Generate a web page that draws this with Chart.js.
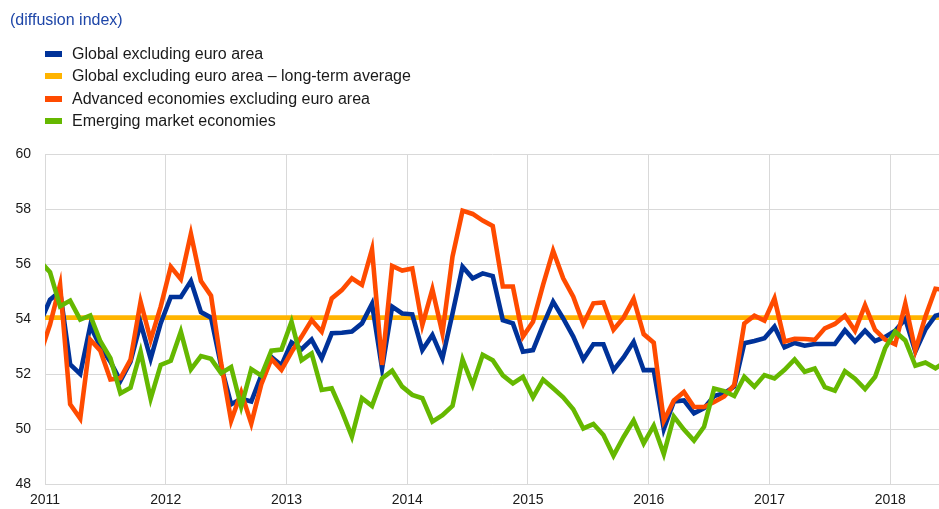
<!DOCTYPE html>
<html><head><meta charset="utf-8">
<script src="https://cdn.jsdelivr.net/npm/chart.js@4/dist/chart.umd.min.js"></script>
<style>
html,body{margin:0;padding:0;background:#fff;}
#wrap{position:relative;width:939px;height:509px;overflow:hidden;font-family:"Liberation Sans",Arial,sans-serif;}
#title{position:absolute;left:10px;top:10px;font-size:16px;color:#1e46a8;line-height:20px;white-space:nowrap;}
#legend{position:absolute;left:45px;top:43px;}
.item{position:absolute;left:0;height:22px;line-height:22px;font-size:16px;color:#1a1a1a;white-space:nowrap;}
.sw{position:absolute;left:0;top:8px;width:17px;height:6px;}
.lbl{position:absolute;left:27px;top:0;}
canvas{position:absolute;left:0;top:0;}
</style></head><body>
<div id="wrap"><canvas id="c" width="939" height="509"></canvas><div id="title">(diffusion index)</div><div id="legend"></div></div>
<script>
// Monthly categories: Dec 2010 .. Jun 2018 (edge months are partly clipped by the plot frame)
const months = [];
for (let i = -1; i <= 89; i++) {
  const y = 2011 + Math.floor(i / 12), m = ((i % 12) + 12) % 12 + 1;
  months.push(y + '-' + String(m).padStart(2, '0'));
}
const yearLabels = ['2011','2012','2013','2014','2015','2016','2017','2018'];

const seriesNames = [
  'Global excluding euro area',
  'Global excluding euro area \u2013 long-term average',
  'Advanced economies excluding euro area',
  'Emerging market economies'
];
const seriesColors = ['#003299', '#ffb400', '#ff4b00', '#65b800'];

const globalExEA = [53.85, 54.7, 55.0, 52.35, 52.0, 53.75, 53.0, 52.45, 51.75, 52.45, 53.85, 52.55, 53.85,
 54.8, 54.8, 55.38, 54.25, 54.05, 52.3, 50.9, 51.1, 51.0, 51.95, 52.62, 52.32,
 53.15, 52.9, 53.25, 52.57, 53.48, 53.5, 53.54, 53.84, 54.55, 52.2, 54.45, 54.2,
 54.17, 52.87, 53.42, 52.57, 54.2, 55.9, 55.48, 55.66, 55.56, 53.96, 53.84, 52.81,
 52.87, 53.78, 54.63, 54.02, 53.36, 52.53, 53.08, 53.08, 52.14, 52.6, 53.17, 52.14,
 52.14, 50.0, 51.0, 51.04, 50.57, 50.76, 51.2, 51.3, 51.54, 53.12, 53.2, 53.3,
 53.72, 52.97, 53.13, 53.03, 53.09, 53.09, 53.09, 53.59, 53.18, 53.58, 53.2, 53.35,
 53.57, 54.0, 52.82, 53.62, 54.12, 54.2];

const longTermAverage = 54.05;

const advancedExEA = [52.7, 53.8, 55.25, 50.9, 50.38, 53.25, 52.85, 51.8, 51.85, 52.52, 54.63, 53.24, 54.45,
 55.9, 55.45, 57.1, 55.38, 54.85, 52.4, 50.3, 51.33, 50.2, 51.63, 52.55, 52.15,
 52.8, 53.36, 53.96, 53.54, 54.75, 55.05, 55.48, 55.24, 56.53, 52.33, 55.93, 55.76,
 55.84, 53.78, 55.08, 53.48, 56.27, 57.94, 57.82, 57.58, 57.38, 55.18, 55.18, 53.36,
 53.9, 55.24, 56.48, 55.48, 54.81, 53.82, 54.57, 54.6, 53.61, 54.05, 54.73, 53.45,
 53.14, 50.3, 51.04, 51.35, 50.8, 50.8, 50.98, 51.18, 51.6, 53.84, 54.12, 53.94,
 54.75, 53.18, 53.28, 53.27, 53.24, 53.66, 53.82, 54.12, 53.57, 54.5, 53.6, 53.25,
 53.08, 54.56, 52.86, 54.09, 55.1, 55.05];

const emerging = [56.1, 55.7, 54.46, 54.67, 53.98, 54.13, 53.19, 52.58, 51.3, 51.5, 52.81, 51.1, 52.33,
 52.48, 53.54, 52.17, 52.65, 52.55, 52.03, 52.25, 50.81, 52.18, 51.94, 52.85, 52.89,
 53.9, 52.5, 52.75, 51.42, 51.48, 50.65, 49.72, 51.12, 50.84, 51.84, 52.12, 51.54,
 51.24, 51.12, 50.27, 50.5, 50.84, 52.53, 51.6, 52.7, 52.5, 51.95, 51.66, 51.9,
 51.15, 51.8, 51.48, 51.15, 50.72, 50.02, 50.18, 49.78, 49.03, 49.71, 50.31, 49.48,
 50.12, 49.09, 50.45, 49.98, 49.58, 50.08, 51.47, 51.38, 51.2, 51.9, 51.54, 51.96,
 51.84, 52.15, 52.53, 52.08, 52.2, 51.52, 51.39, 52.1, 51.83, 51.45, 51.9, 52.94,
 53.54, 53.22, 52.3, 52.42, 52.21, 52.45];

// month string -> position in months since Jan 2011 (point placed mid-month)
function monthPos(s) {
  const [y, m] = s.split('-').map(Number);
  return (y - 2011) * 12 + (m - 1) + 0.5;
}
function toPoints(vals) { return vals.map((v, i) => ({x: monthPos(months[i]), y: v})); }

const X_MIN = 0, X_MAX = 88.85;

// HTML legend
const leg = document.getElementById('legend');
seriesNames.forEach((n, k) => {
  const d = document.createElement('div');
  d.className = 'item';
  d.style.top = (k * 22.4) + 'px';
  d.innerHTML = '<span class="sw" style="background:' + seriesColors[k] + '"></span><span class="lbl"></span>';
  d.querySelector('.lbl').textContent = n;
  leg.appendChild(d);
});

const lineBase = {pointRadius: 0, pointHoverRadius: 0, borderWidth: 4.6, tension: 0, clip: 0, fill: false};
const avgPoints = [{x: monthPos(months[0]), y: longTermAverage}, {x: monthPos(months[months.length - 1]), y: longTermAverage}];

new Chart(document.getElementById('c'), {
  type: 'line',
  data: {
    datasets: [
      Object.assign({label: seriesNames[3], data: toPoints(emerging), borderColor: seriesColors[3], order: 0}, lineBase),
      Object.assign({label: seriesNames[2], data: toPoints(advancedExEA), borderColor: seriesColors[2], order: 1}, lineBase),
      Object.assign({label: seriesNames[0], data: toPoints(globalExEA), borderColor: seriesColors[0], order: 2}, lineBase),
      Object.assign({label: seriesNames[1], data: avgPoints, borderColor: seriesColors[1], order: 3}, lineBase)
    ]
  },
  options: {
    responsive: false,
    animation: false,
    devicePixelRatio: 1,
    layout: {padding: {top: 154, right: 0, left: 0, bottom: 0}},
    plugins: {legend: {display: false}, tooltip: {enabled: false}, title: {display: false}},
    scales: {
      x: {
        type: 'linear', min: X_MIN, max: X_MAX,
        afterFit: s => { s.height = 25; },
        afterBuildTicks: s => { s.ticks = yearLabels.map((l, k) => ({value: k * 12})); },
        ticks: {
          includeBounds: false, autoSkip: false, maxRotation: 0, padding: 8,
          color: '#1a1a1a', font: {family: '"Liberation Sans", Arial, sans-serif', size: 14},
          callback: (v) => yearLabels[Math.round(v / 12)]
        },
        grid: {color: '#d9d9d9', lineWidth: 1, drawTicks: false},
        border: {color: '#d9d9d9'}
      },
      y: {
        min: 48, max: 60,
        afterFit: s => { s.width = 45; },
        ticks: {
          stepSize: 2, padding: 14,
          color: '#1a1a1a', font: {family: '"Liberation Sans", Arial, sans-serif', size: 14}
        },
        grid: {color: '#d9d9d9', lineWidth: 1, drawTicks: false},
        border: {color: '#d9d9d9'}
      }
    }
  }
});
</script>
</body></html>
